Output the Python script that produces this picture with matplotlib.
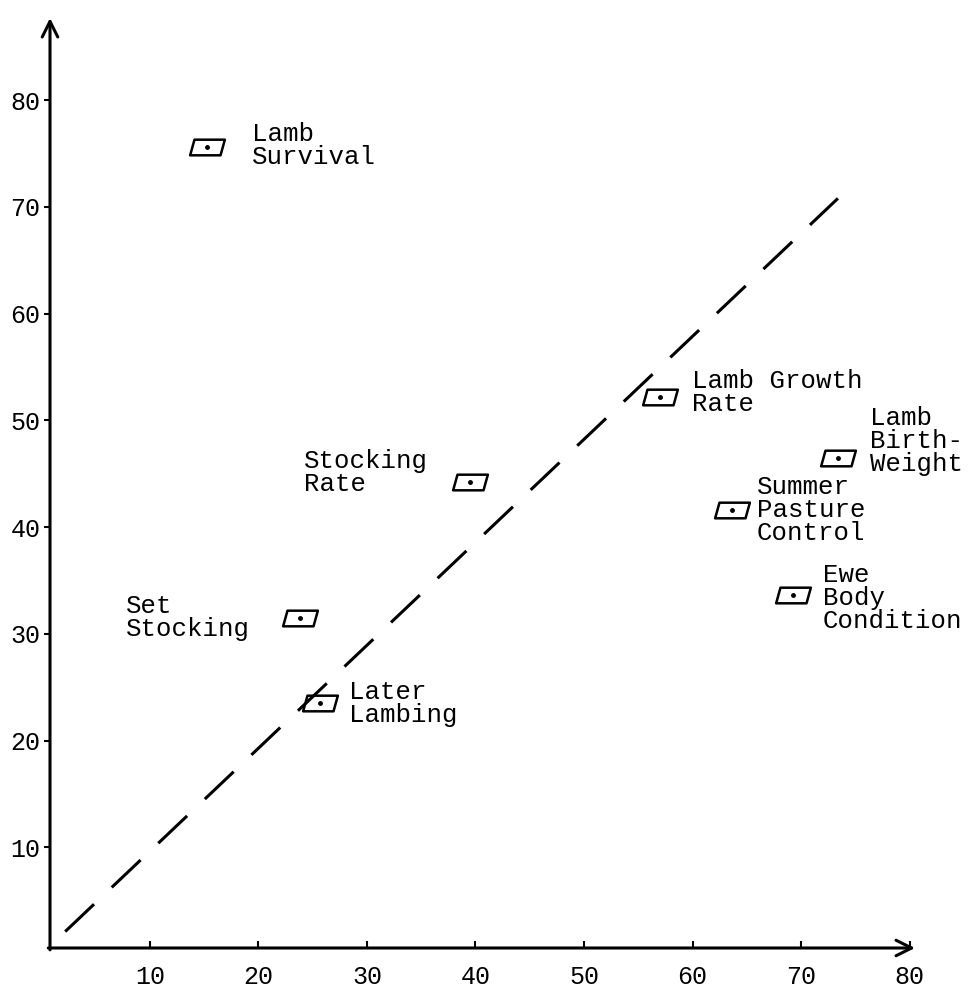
import numpy as np
import matplotlib
matplotlib.use('Agg')
import matplotlib.pyplot as plt
from matplotlib.path import Path

# Duomenys (nuskaityti nuo paveikslo)
labels = ['Lamb\nSurvival', 'Lamb Growth\nRate', 'Lamb\nBirth-\nWeight',
          'Summer\nPasture\nControl', 'Ewe\nBody\nCondition', 'Stocking\nRate',
          'Set\nStocking', 'Later\nLambing']
x_vals = [15.3, 57.0, 73.4, 63.6, 69.3, 39.5, 23.8, 25.7]
y_vals = [75.6, 52.2, 46.5, 41.6, 33.6, 44.2, 31.5, 23.5]
ticks = [10, 20, 30, 40, 50, 60, 70, 80]
diag_x = [2.2, 73.4]
diag_y = [2.1, 70.8]

# teksto poslinkiai (taškais) ir lygiavimas
offsets = [(32, 1), (23, 3), (23, 12), (18, 0), (21, -2), (-30, 7), (-36, 0), (21, 0)]
aligns = ['left', 'left', 'left', 'left', 'left', 'right', 'right', 'left']

mono = 'Liberation Mono'

fig = plt.figure(figsize=(9.72, 9.92), dpi=100)
ax = fig.add_axes([50/972, 44/992, 865/972, 930/992])
ax.set_xlim(0.8, 80.5)
ax.set_ylim(0.56, 87.7)

for s in ax.spines.values():
    s.set_visible(False)

# ašys su rodyklėmis
arrow = dict(arrowstyle='->', lw=2.2, color='black', mutation_scale=28,
             shrinkA=0, shrinkB=0)
ax.annotate('', xy=(1, 0), xytext=(-0.002, 0), xycoords='axes fraction',
            arrowprops=arrow, annotation_clip=False)
ax.annotate('', xy=(0, 1), xytext=(0, -0.002), xycoords='axes fraction',
            arrowprops=arrow, annotation_clip=False)

# įstrižainė
ax.plot(diag_x, diag_y, color='black', lw=2.2, linestyle=(0, (13, 8)),
        solid_capstyle='butt')

# žymekliai - lygiagretainiai su tašku
para = Path([(-1.0, -0.45), (0.75, -0.45), (1.0, 0.45), (-0.75, 0.45), (-1.0, -0.45)],
            [Path.MOVETO, Path.LINETO, Path.LINETO, Path.LINETO, Path.CLOSEPOLY])
ax.plot(x_vals, y_vals, linestyle='none', marker=para, ms=25, mfc='none',
        mec='black', mew=1.8)
ax.plot(x_vals, y_vals, linestyle='none', marker='o', ms=2.5, color='black')

for lab, xv, yv, off, ha in zip(labels, x_vals, y_vals, offsets, aligns):
    ax.annotate(lab, xy=(xv, yv), xytext=off, textcoords='offset points',
                ha=ha, va='center', multialignment='left', fontsize=18.5,
                family=mono, linespacing=0.95)

ax.set_xticks(ticks)
ax.set_yticks(ticks)
ax.set_xticklabels([str(t) for t in ticks], family=mono, fontsize=18)
ax.set_yticklabels([str(t) for t in ticks], family=mono, fontsize=18)
ax.tick_params(axis='x', direction='in', length=5, width=1.5, pad=12)
ax.tick_params(axis='y', direction='out', length=4, width=1.5, pad=3)

fig.savefig('out.png', dpi=100)
